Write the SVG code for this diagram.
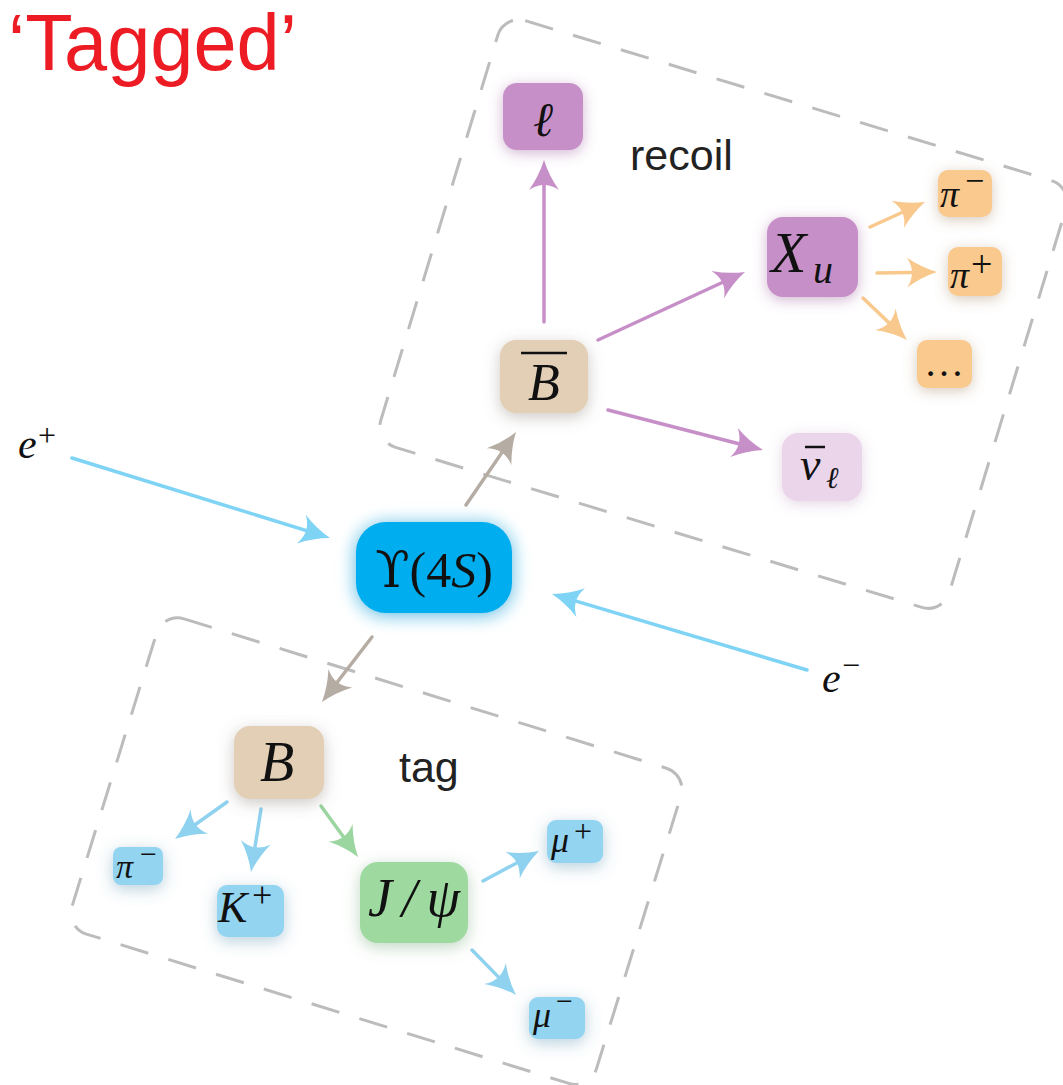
<svg xmlns="http://www.w3.org/2000/svg" width="1063" height="1085" viewBox="0 0 1063 1085">
<style>
.box{fill:none;stroke:#bcbcbc;stroke-width:3;stroke-dasharray:29 21}
.m{font-family:"Liberation Serif","DejaVu Serif",serif;font-style:italic;fill:#111}
.u{font-family:"Liberation Serif","DejaVu Serif",serif;font-style:normal;fill:#111}
.lbl{font-family:"Liberation Sans",Arial,sans-serif;fill:#222;font-size:43px}
.a{fill:none;stroke-width:3.5;stroke-linecap:round}
.blue{stroke:#7fd3f5}.sky{stroke:#8fd2f0}.pur{stroke:#c78fc8}.org{stroke:#f9c88c}.gry{stroke:#b5aca4}.grn{stroke:#9bd6a0}
</style>
<defs>
<filter id="fPur" x="-60%" y="-60%" width="220%" height="220%"><feDropShadow dx="0" dy="3" stdDeviation="7" flood-color="#9a5a9a" flood-opacity="0.45"/></filter>
<filter id="fLil" x="-60%" y="-60%" width="220%" height="220%"><feDropShadow dx="0" dy="3" stdDeviation="7" flood-color="#b48ab4" flood-opacity="0.35"/></filter>
<filter id="fOrg" x="-60%" y="-60%" width="220%" height="220%"><feDropShadow dx="0" dy="3" stdDeviation="7" flood-color="#9c7a55" flood-opacity="0.4"/></filter>
<filter id="fTan" x="-60%" y="-60%" width="220%" height="220%"><feDropShadow dx="0" dy="4" stdDeviation="8" flood-color="#6e6258" flood-opacity="0.35"/></filter>
<filter id="fBlu" x="-60%" y="-60%" width="220%" height="220%"><feDropShadow dx="0" dy="4" stdDeviation="8" flood-color="#4a88a8" flood-opacity="0.4"/></filter>
<filter id="fGrn" x="-60%" y="-60%" width="220%" height="220%"><feDropShadow dx="0" dy="4" stdDeviation="8" flood-color="#5e9a64" flood-opacity="0.4"/></filter>
<filter id="fCyn" x="-60%" y="-60%" width="220%" height="220%"><feDropShadow dx="0" dy="2" stdDeviation="9" flood-color="#1aa0d8" flood-opacity="0.75"/></filter>
<marker id="hBlue" markerUnits="userSpaceOnUse" orient="auto" refX="0" refY="0" markerWidth="40" markerHeight="40" viewBox="-20 -20 40 40" overflow="visible"><path d="M12,0 Q-4,-5 -18,-15 Q-8,0 -18,15 Q-4,5 12,0Z" fill="#7fd3f5"/></marker>
<marker id="hSky" markerUnits="userSpaceOnUse" orient="auto" refX="0" refY="0" markerWidth="40" markerHeight="40" viewBox="-20 -20 40 40" overflow="visible"><path d="M12,0 Q-4,-5 -18,-15 Q-8,0 -18,15 Q-4,5 12,0Z" fill="#8fd2f0"/></marker>
<marker id="hPur" markerUnits="userSpaceOnUse" orient="auto" refX="0" refY="0" markerWidth="40" markerHeight="40" viewBox="-20 -20 40 40" overflow="visible"><path d="M12,0 Q-4,-5 -18,-15 Q-8,0 -18,15 Q-4,5 12,0Z" fill="#c78fc8"/></marker>
<marker id="hOrg" markerUnits="userSpaceOnUse" orient="auto" refX="0" refY="0" markerWidth="40" markerHeight="40" viewBox="-20 -20 40 40" overflow="visible"><path d="M12,0 Q-4,-5 -18,-15 Q-8,0 -18,15 Q-4,5 12,0Z" fill="#f9c88c"/></marker>
<marker id="hGry" markerUnits="userSpaceOnUse" orient="auto" refX="0" refY="0" markerWidth="40" markerHeight="40" viewBox="-20 -20 40 40" overflow="visible"><path d="M12,0 Q-4,-5 -18,-15 Q-8,0 -18,15 Q-4,5 12,0Z" fill="#b5aca4"/></marker>
<marker id="hGrn" markerUnits="userSpaceOnUse" orient="auto" refX="0" refY="0" markerWidth="40" markerHeight="40" viewBox="-20 -20 40 40" overflow="visible"><path d="M12,0 Q-4,-5 -18,-15 Q-8,0 -18,15 Q-4,5 12,0Z" fill="#9bd6a0"/></marker>
</defs>
<rect width="1063" height="1085" fill="#fff"/>

<text x="8" y="70" font-family="Liberation Sans,Arial,sans-serif" font-size="80" fill="#ed1c24" textLength="289" lengthAdjust="spacingAndGlyphs">‘Tagged’</text>

<g id="recoil-box"><rect class="box" x="-297" y="-223" width="594" height="446" rx="22" transform="translate(723.5,314) rotate(16.9)"/></g>
<g id="tag-box"><rect class="box" x="-274" y="-165" width="549" height="330" rx="22" transform="translate(376,851) rotate(17.2)"/></g>

<g id="connectors">
<line class="a blue" x1="72" y1="458" x2="318.5" y2="534.4" marker-end="url(#hBlue)"/>
<line class="a blue" x1="807" y1="670" x2="563.5" y2="597.4" marker-end="url(#hBlue)"/>
<line class="a gry" x1="466" y1="505" x2="509.2" y2="441.9" marker-end="url(#hGry)"/>
<line class="a gry" x1="372" y1="637" x2="329.3" y2="692.5" marker-end="url(#hGry)"/>
<line class="a pur" x1="544" y1="322" x2="544" y2="172" marker-end="url(#hPur)"/>
<line class="a pur" x1="598" y1="340" x2="734.1" y2="277" marker-end="url(#hPur)"/>
<line class="a pur" x1="608" y1="410" x2="751.4" y2="447" marker-end="url(#hPur)"/>
<line class="a org" x1="870" y1="227" x2="914.1" y2="207" marker-end="url(#hOrg)"/>
<line class="a org" x1="877" y1="273" x2="925" y2="272.2" marker-end="url(#hOrg)"/>
<line class="a org" x1="863" y1="298" x2="898.3" y2="331.7" marker-end="url(#hOrg)"/>
<line class="a sky" x1="227" y1="802" x2="184.8" y2="832" marker-end="url(#hSky)"/>
<line class="a sky" x1="261" y1="809" x2="252.9" y2="860.1" marker-end="url(#hSky)"/>
<line class="a grn" x1="321" y1="806" x2="351" y2="847.3" marker-end="url(#hGrn)"/>
<line class="a sky" x1="483" y1="881" x2="528.4" y2="856.7" marker-end="url(#hSky)"/>
<line class="a sky" x1="472" y1="950" x2="507.6" y2="986.4" marker-end="url(#hSky)"/>
</g>

<g id="e-plus"><text class="m" x="18" y="458" font-size="42">e</text><text class="u" x="38" y="446" font-size="32">+</text></g>
<g id="e-minus"><text class="m" x="822" y="692" font-size="42">e</text><text class="u" x="842" y="676" font-size="32">−</text></g>

<g id="upsilon"><rect x="356" y="522" width="156" height="91" rx="30" fill="#00aeef" filter="url(#fCyn)"/>
<text class="u" x="434" y="587" font-size="50" text-anchor="middle"><tspan font-family="DejaVu Serif,serif">ϒ</tspan>(4<tspan font-style="italic">S</tspan>)</text></g>

<g id="Bbar"><rect x="500" y="340" width="88" height="73" rx="16" fill="#e2cfb5" filter="url(#fTan)"/>
<line x1="521" y1="353" x2="567" y2="353" stroke="#111" stroke-width="2.5"/>
<text class="m" x="544" y="400" font-size="52" text-anchor="middle">B</text></g>

<g id="ell"><rect x="503" y="83" width="80" height="67" rx="14" fill="#c68fc7" filter="url(#fPur)"/>
<text class="m" x="543" y="136" font-size="48" text-anchor="middle">ℓ</text></g>
<text class="lbl" x="630" y="170">recoil</text>

<g id="Xu"><rect x="767" y="217" width="91" height="80" rx="16" fill="#c68fc7" filter="url(#fPur)"/>
<text class="m" x="771" y="272" font-size="58">X</text><text class="m" x="813" y="283" font-size="40">u</text></g>

<g id="pi-minus-r"><rect x="938" y="170" width="54" height="47" rx="10" fill="#f9c98d" filter="url(#fOrg)"/>
<text class="m" x="940" y="207" font-size="38">π</text><text class="u" x="965" y="192" font-size="34">−</text></g>
<g id="pi-plus-r"><rect x="948" y="247" width="54" height="49" rx="10" fill="#f9c98d" filter="url(#fOrg)"/>
<text class="m" x="950" y="288" font-size="38">π</text><text class="u" x="971" y="277" font-size="38">+</text></g>
<g id="dots"><rect x="917" y="340" width="55" height="48" rx="10" fill="#f9c98d" filter="url(#fOrg)"/>
<text class="u" x="944" y="376" font-size="40" text-anchor="middle">…</text></g>

<g id="nubar"><rect x="782" y="433" width="80" height="68" rx="16" fill="#ead5ea" filter="url(#fLil)"/>
<line x1="805" y1="447" x2="825" y2="447" stroke="#111" stroke-width="2.5"/>
<text class="m" x="800" y="480" font-size="46">ν</text><text class="m" x="826" y="488" font-size="30">ℓ</text></g>

<g id="B"><rect x="234" y="726" width="90" height="73" rx="16" fill="#e2cfb5" filter="url(#fTan)"/>
<text class="m" x="277" y="781" font-size="56" text-anchor="middle">B</text></g>
<text class="lbl" x="399" y="782">tag</text>

<g id="pi-minus-t"><rect x="113" y="847" width="50" height="38" rx="8" fill="#93d5f1" filter="url(#fBlu)"/>
<text class="m" x="116" y="878" font-size="34">π</text><text class="u" x="140" y="864" font-size="30">−</text></g>
<g id="Kplus"><rect x="217" y="885" width="67" height="52" rx="10" fill="#93d5f1" filter="url(#fBlu)"/>
<text class="m" x="218" y="922" font-size="44">K</text><text class="u" x="252" y="907" font-size="36">+</text></g>
<g id="Jpsi"><rect x="360" y="862" width="108" height="81" rx="18" fill="#9ed9a0" filter="url(#fGrn)"/>
<text class="m" x="368" y="916" font-size="54" textLength="92" lengthAdjust="spacing">J/ψ</text></g>
<g id="mu-plus"><rect x="547" y="820" width="56" height="43" rx="9" fill="#93d5f1" filter="url(#fBlu)"/>
<text class="m" x="551" y="852" font-size="36">μ</text><text class="u" x="574" y="842" font-size="32">+</text></g>
<g id="mu-minus"><rect x="529" y="997" width="56" height="42" rx="9" fill="#93d5f1" filter="url(#fBlu)"/>
<text class="m" x="533" y="1027" font-size="36">μ</text><text class="u" x="556" y="1011" font-size="30">−</text></g>
</svg>
